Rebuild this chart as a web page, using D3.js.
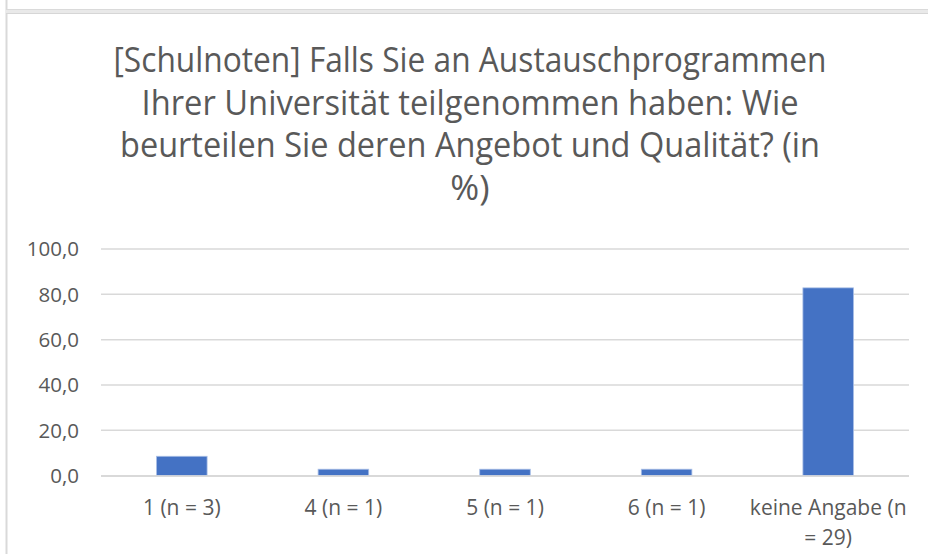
<!DOCTYPE html>
<html>
<head>
<meta charset="utf-8">
<script src="https://cdn.jsdelivr.net/npm/d3@7"></script>
<style>
  html, body { margin: 0; padding: 0; background: #ffffff; }
  svg { display: block; }
  text { font-family: "Open Sans", "Noto Sans", sans-serif; fill: #595959; }
</style>
</head>
<body>
<script>
// Survey answers: school-grade rating of exchange programmes (share in %)
const categories = ["1 (n = 3)", "4 (n = 1)", "5 (n = 1)", "6 (n = 1)", "keine Angabe (n = 29)"];
const counts = [3, 1, 1, 1, 29];
const percentages = [8.57, 2.86, 2.86, 2.86, 82.86];
const yTicks = [0, 20, 40, 60, 80, 100];
const titleLines = [
  "[Schulnoten] Falls Sie an Austauschprogrammen",
  "Ihrer Universität teilgenommen haben: Wie",
  "beurteilen Sie deren Angebot und Qualität? (in",
  "%)"
];
const categoryLines = [["1 (n = 3)"], ["4 (n = 1)"], ["5 (n = 1)"], ["6 (n = 1)"], ["keine Angabe (n", "= 29)"]];

const W = 928, H = 554;
const svg = d3.select("body").append("svg").attr("width", W).attr("height", H);

// chart frame edges
svg.append("line").attr("x1", 6.5).attr("x2", 6.5).attr("y1", 0).attr("y2", H)
  .attr("stroke", "#d9d9d9").attr("stroke-width", 2);
svg.append("rect").attr("x", 6).attr("y", 9).attr("width", W - 6).attr("height", 5)
  .attr("fill", "#e9e9e9");
svg.append("line").attr("x1", 6).attr("x2", W).attr("y1", 9.5).attr("y2", 9.5)
  .attr("stroke", "#dadada").attr("stroke-width", 1);
svg.append("line").attr("x1", 6).attr("x2", W).attr("y1", 13.5).attr("y2", 13.5)
  .attr("stroke", "#d6d6d6").attr("stroke-width", 1);

const plot = { left: 101, right: 909, top: 249, bottom: 475.7 };

const x = d3.scaleBand().domain(categories)
  .range([plot.left, plot.right])
  .paddingInner(0.687).paddingOuter(0.3435);
const y = d3.scaleLinear().domain([0, 100]).range([plot.bottom, plot.top]);

// horizontal gridlines
svg.append("g").selectAll("line").data(yTicks).join("line")
  .attr("x1", plot.left).attr("x2", plot.right)
  .attr("y1", d => y(d)).attr("y2", d => y(d))
  .attr("stroke", "#d9d9d9").attr("stroke-width", 1.5);

// y tick labels
const fmt = v => d3.format(".1f")(v).replace(".", ",");
svg.append("g").selectAll("text").data(yTicks).join("text")
  .attr("x", 79).attr("y", d => y(d)).attr("dy", "0.35em")
  .attr("text-anchor", "end").attr("font-size", 20.5)
  .text(d => fmt(d));

// bars
svg.append("g").selectAll("rect").data(percentages).join("rect")
  .attr("x", (d, i) => x(categories[i]))
  .attr("width", x.bandwidth())
  .attr("y", d => y(d))
  .attr("height", d => y(0) - y(d))
  .attr("fill", "#4472c4")
  .attr("stroke", "#a9bfe6").attr("stroke-width", 0.8);

// baseline
svg.append("line").attr("x1", plot.left).attr("x2", plot.right)
  .attr("y1", y(0) + 0.5).attr("y2", y(0) + 0.5)
  .attr("stroke", "#d9d9d9").attr("stroke-width", 1.8);

// category labels
const xl = svg.append("g").selectAll("text").data(categories).join("text")
  .attr("x", d => x(d) + x.bandwidth() / 2)
  .attr("y", 515).attr("text-anchor", "middle").attr("font-size", 21);
xl.each(function (d, i) {
  d3.select(this).selectAll("tspan").data(categoryLines[i]).join("tspan")
    .attr("x", x(d) + x.bandwidth() / 2)
    .attr("dy", (t, j) => j === 0 ? 0 : 30)
    .text(t => t);
});

// title
const titleWidths = [713, 657, 700, null];
const title = svg.append("g");
titleLines.forEach((line, i) => {
  const t = title.append("text")
    .attr("x", 470).attr("y", 72 + i * 42.7)
    .attr("text-anchor", "middle").attr("font-size", 35)
    .text(line);
  if (titleWidths[i]) {
    t.attr("textLength", titleWidths[i]).attr("lengthAdjust", "spacingAndGlyphs");
  }
});
</script>
</body>
</html>
